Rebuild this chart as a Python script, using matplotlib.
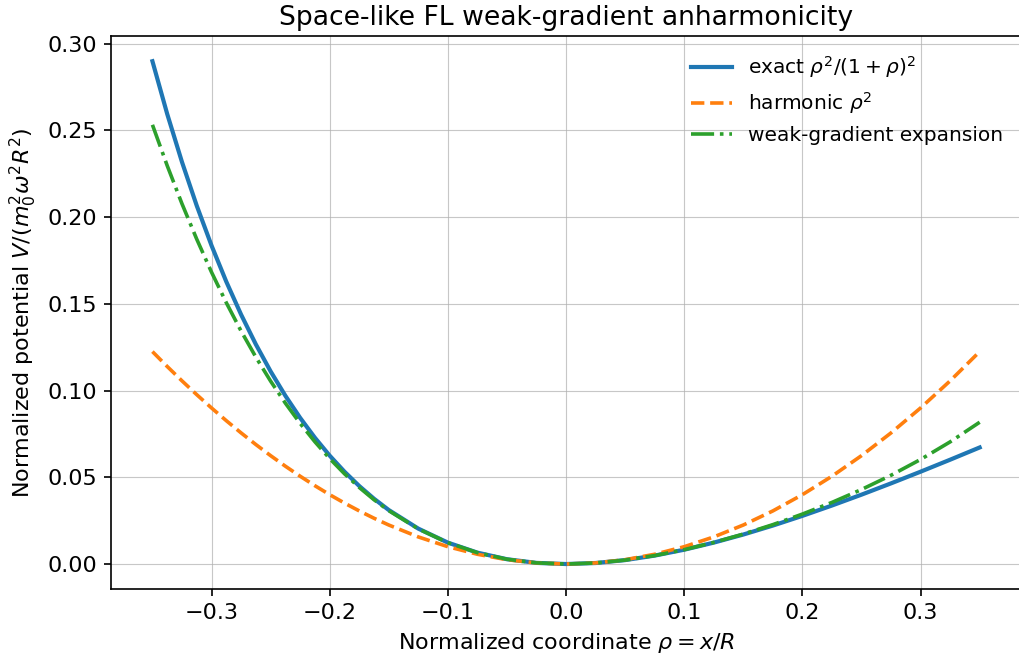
import numpy as np
import matplotlib.pyplot as plt

# values (finer spacing on the steep left part)
rho = [-0.35, -0.3375, -0.325, -0.3125, -0.3, -0.2875, -0.275, -0.2625, -0.25, -0.2375,
       -0.225, -0.2125, -0.2, -0.1875, -0.175, -0.1625, -0.15, -0.125,
       -0.1, -0.075, -0.05, -0.025, 0.0, 0.025, 0.05, 0.075, 0.1, 0.125,
       0.15, 0.175, 0.2, 0.225, 0.25, 0.275, 0.3, 0.325, 0.35]

exact = [0.28994, 0.25952, 0.23182, 0.20661, 0.18367, 0.16282, 0.14388, 0.12669, 0.11111, 0.09702,
         0.08429, 0.07281, 0.0625, 0.05325, 0.04500, 0.03765, 0.03114, 0.02041,
         0.01235, 0.00657, 0.00277, 0.00066, 0.0, 0.00059, 0.00227, 0.00487, 0.00826, 0.01235,
         0.01701, 0.02218, 0.02778, 0.03374, 0.04, 0.04652, 0.05325, 0.06016, 0.06722]

harmonic = [0.1225, 0.11391, 0.10563, 0.09766, 0.09, 0.08266, 0.07563, 0.06891, 0.0625, 0.05641,
            0.05063, 0.04516, 0.04, 0.03516, 0.03063, 0.02641, 0.0225, 0.01563,
            0.01, 0.00563, 0.0025, 0.00063, 0.0, 0.00063, 0.0025, 0.00563, 0.01, 0.01563,
            0.0225, 0.03063, 0.04, 0.05063, 0.0625, 0.07563, 0.09, 0.10563, 0.1225]

weak = [0.25327, 0.22972, 0.20775, 0.18731, 0.1683, 0.15069, 0.13438, 0.11933, 0.10547, 0.09275,
        0.08110, 0.07047, 0.0608, 0.05205, 0.04416, 0.03708, 0.03077, 0.02026,
        0.0123, 0.00656, 0.00277, 0.00066, 0.0, 0.00060, 0.00227, 0.00488, 0.0083, 0.01245,
        0.01727, 0.02272, 0.0288, 0.03553, 0.04297, 0.05119, 0.0603, 0.07044, 0.08177]

fig, ax = plt.subplots(figsize=(10.19, 6.68), dpi=100)
fig.subplots_adjust(left=0.109, right=1.002, top=0.946, bottom=0.118)

ax.plot(rho, exact, '-', color='#1f77b4', lw=3, label=r'exact $\rho^2/(1+\rho)^2$')
ax.plot(rho, harmonic, '--', color='#ff7f0e', lw=2.6, label=r'harmonic $\rho^2$')
ax.plot(rho, weak, '-.', color='#2ca02c', lw=2.6, label='weak-gradient expansion')

ax.set_title('Space-like FL weak-gradient anharmonicity', fontsize=19.2, pad=8)
ax.set_xlabel(r'Normalized coordinate $\rho = x/R$', fontsize=16, labelpad=6)
ax.set_ylabel(r'Normalized potential $V/(m_0^2\omega^2 R^2)$', fontsize=16, labelpad=6)
ax.tick_params(labelsize=16, width=1.2, length=5, pad=5)
for s in ax.spines.values():
    s.set_linewidth(1.2)
ax.grid(True, alpha=0.7)
ax.legend(fontsize=14.5, frameon=False, loc='upper right')

plt.savefig('out.png')
